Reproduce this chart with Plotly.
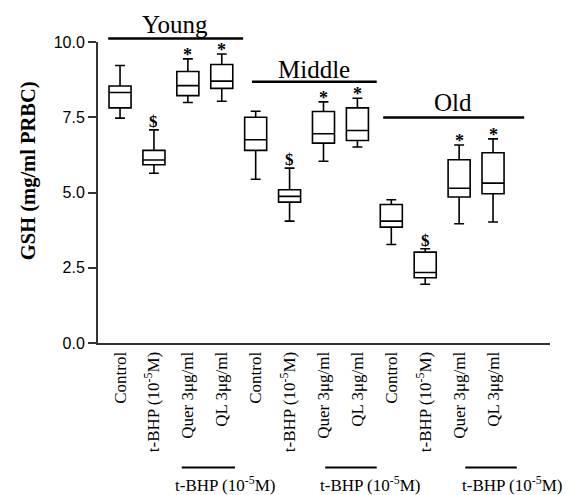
import plotly.graph_objects as go

# ---- data ----
categories = ["Control", "t-BHP (10<sup>-5</sup>M)", "Quer 3μg/ml", "QL 3μg/ml"] * 3
groups = ["Young", "Middle", "Old"]
upper_whisker = [9.22, 7.08, 9.44, 9.60, 7.70, 5.81, 8.01, 8.13, 4.76, 3.13, 6.58, 6.78]
q3_values     = [8.54, 6.40, 9.02, 9.25, 7.50, 5.09, 7.69, 7.81, 4.60, 3.02, 6.09, 6.32]
median_values = [8.32, 6.08, 8.55, 8.70, 6.75, 4.87, 6.95, 7.06, 4.05, 2.34, 5.14, 5.31]
q1_values     = [7.81, 5.92, 8.22, 8.46, 6.40, 4.68, 6.64, 6.73, 3.85, 2.17, 4.85, 4.96]
lower_whisker = [7.47, 5.64, 7.99, 8.03, 5.44, 4.05, 6.04, 6.51, 3.27, 1.95, 3.96, 4.02]
markers = ["", "$", "*", "*", "", "$", "*", "*", "", "$", "*", "*"]
y_ticks = [0.0, 2.5, 5.0, 7.5, 10.0]
y_tick_labels = ["0.0", "2.5", "5.0", "7.5", "10.0"]
treat_label = "t-BHP (10<sup>-5</sup>M)"

positions = list(range(len(categories)))

SERIF = "Liberation Serif, Times New Roman, serif"
SANS = "Liberation Sans, Arial, sans-serif"

fig = go.Figure()
fig.add_trace(go.Box(
    x=positions,
    q1=q1_values, median=median_values, q3=q3_values,
    lowerfence=lower_whisker, upperfence=upper_whisker,
    boxpoints=False,
    width=0.65,
    whiskerwidth=0.45,
    fillcolor="white",
    line=dict(color="black", width=1.6),
    showlegend=False,
    hoverinfo="skip",
))

# significance markers above whiskers
for i, m in enumerate(markers):
    if m:
        fig.add_annotation(
            x=positions[i], y=upper_whisker[i], xref="x", yref="y",
            text=f"<b>{m}</b>", showarrow=False, yanchor="bottom",
            yshift=-8 if m == "*" else -3,
            font=dict(family=SERIF, size=18 if m == "*" else 17, color="black"),
        )

# group headers (span in x units, line height in paper, label height in paper)
group_span = [(-0.35, 3.63), (3.89, 7.57), (7.76, 11.92)]
group_line_y = [1.012, 0.868, 0.749]
group_text_y = [1.058, 0.909, 0.799]
for g, (x0, x1), ly, ty in zip(groups, group_span, group_line_y, group_text_y):
    fig.add_shape(type="line", xref="x", yref="paper", x0=x0, x1=x1, y0=ly, y1=ly,
                  line=dict(color="black", width=2.5))
    fig.add_annotation(x=(x0 + x1) / 2 - 0.02, y=ty, xref="x", yref="paper",
                       text=g, showarrow=False, xanchor="center", yanchor="middle",
                       font=dict(family=SERIF, size=25, color="black"))

# treatment brackets below the axis labels
bracket_span = [(1.82, 3.39), (6.05, 7.57), (10.18, 11.70)]
bracket_text_x = [3.10, 7.37, 11.56]
for (x0, x1), tx in zip(bracket_span, bracket_text_x):
    fig.add_shape(type="line", xref="x", yref="paper", x0=x0, x1=x1, y0=-0.414, y1=-0.414,
                  line=dict(color="black", width=2))
    fig.add_annotation(x=tx, y=-0.468, xref="x", yref="paper", text=treat_label,
                       showarrow=False, xanchor="center", yanchor="middle",
                       font=dict(family=SERIF, size=17, color="black"))

# y-axis title
fig.add_annotation(x=-0.155, y=0.574, xref="paper", yref="paper",
                   xanchor="center", yanchor="middle",
                   text="<b>GSH (mg/ml PRBC)</b>", textangle=-90, showarrow=False,
                   font=dict(family=SERIF, size=20.5, color="black"))

fig.update_layout(
    width=572, height=495,
    margin=dict(l=98, r=22, t=42, b=152),
    paper_bgcolor="white", plot_bgcolor="white",
    xaxis=dict(
        range=[-0.65, 12.68], tickmode="array", tickvals=positions, ticktext=categories,
        tickangle=-90, ticks="", showline=True, linecolor="#333", linewidth=2,
        showgrid=False, zeroline=False, automargin=False,
        tickfont=dict(family=SERIF, size=17, color="black"),
    ),
    yaxis=dict(
        range=[0, 10], tickmode="array", tickvals=y_ticks, ticktext=y_tick_labels,
        ticks="outside", ticklen=8, tickwidth=2, tickcolor="#333",
        showline=True, linecolor="#333", linewidth=2,
        showgrid=False, zeroline=False, automargin=False,
        tickfont=dict(family=SANS, size=16, color="black"),
    ),
)

fig.write_html("out.html")
